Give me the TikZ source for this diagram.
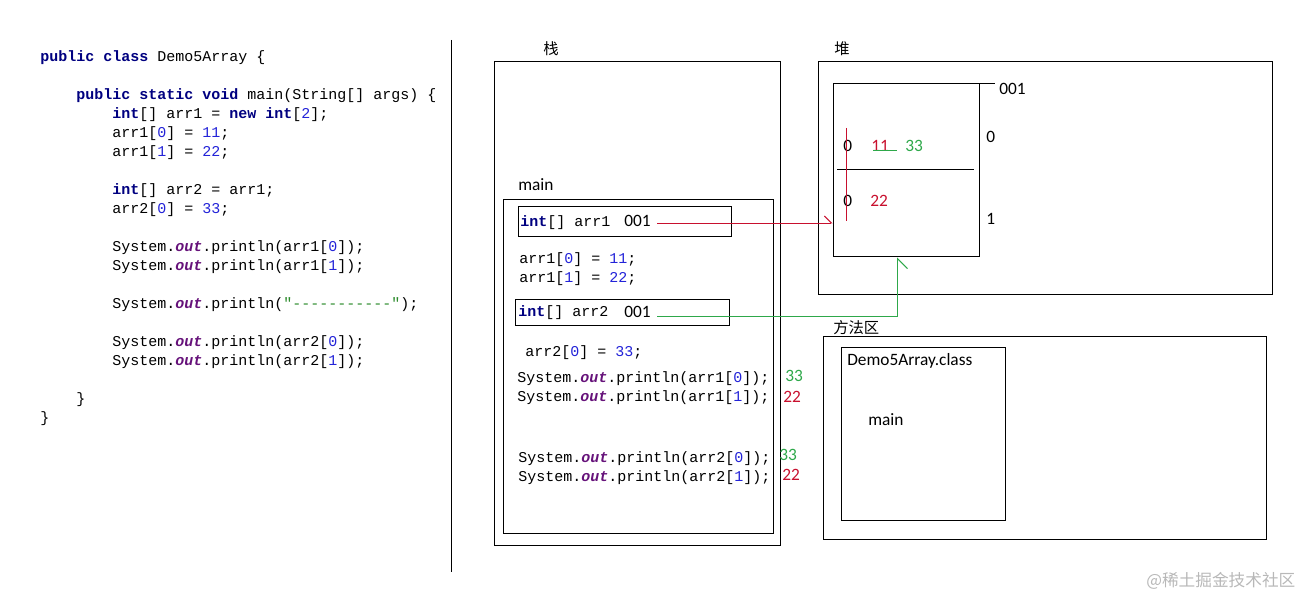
\documentclass[tikz,border=0pt]{standalone}
\usepackage{fontspec}
\setmainfont{Carlito}
\setmonofont{Liberation Mono}
\newfontfamily\cjk{Noto Sans CJK SC}
\usetikzlibrary{arrows.meta,calc}
\definecolor{kwc}{HTML}{000080}
\definecolor{numc}{HTML}{2323D8}
\definecolor{outc}{HTML}{66127A}
\definecolor{strc}{HTML}{2A8A2A}
\definecolor{redc}{HTML}{C8102E}
\definecolor{grnc}{HTML}{2EA84A}
\definecolor{wmc}{HTML}{B8B8B8}
\newcommand\KW[1]{\textcolor{kwc}{\bfseries #1}}
\newcommand\NM[1]{\textcolor{numc}{#1}}
\newcommand\OUT{\textcolor{outc}{\bfseries\itshape out}}
\newcommand\codefont{\fontsize{11.25pt}{13pt}\selectfont\ttfamily}
\begin{document}
\begin{tikzpicture}[x=0.75pt,y=-0.75pt,
  code/.style={anchor=base west,inner sep=0pt,font=\codefont},
  lbl/.style={anchor=base west,inner sep=0pt,font=\fontsize{13pt}{15pt}\selectfont},
  dig/.style={anchor=base west,inner sep=0pt,font=\fontsize{13pt}{15pt}\selectfont},
  cjklbl/.style={anchor=base west,inner sep=0pt,font=\cjk\fontsize{11.5pt}{13pt}\selectfont},
  box/.style={draw=black,line width=0.75pt},
  redline/.style={draw=redc,line width=0.7pt},
  grnline/.style={draw=grnc,line width=0.7pt}]
\useasboundingbox (0,0) rectangle (1311,598);
% left source code
\node[code] (c1) at (40,62) {\KW{public class} Demo5Array \{};
\node[code] (c2) at (76,100) {\KW{public static void} main(String[] args) \{};
\node[code] (c3) at (112,119) {\KW{int}[] arr1 = \KW{new int}[\NM{2}];};
\node[code] (c4) at (112,138) {arr1[\NM{0}] = \NM{11};};
\node[code] (c5) at (112,157) {arr1[\NM{1}] = \NM{22};};
\node[code] (c6) at (112,195) {\KW{int}[] arr2 = arr1;};
\node[code] (c7) at (112,214) {arr2[\NM{0}] = \NM{33};};
\node[code] (c8) at (112,252) {System.\OUT.println(arr1[\NM{0}]);};
\node[code] (c9) at (112,271) {System.\OUT.println(arr1[\NM{1}]);};
\node[code] (c10) at (112,309) {System.\OUT.println(\textcolor{strc}{"-{}-{}-{}-{}-{}-{}-{}-{}-{}-{}-"});};
\node[code] (c11) at (112,347) {System.\OUT.println(arr2[\NM{0}]);};
\node[code] (c12) at (112,366) {System.\OUT.println(arr2[\NM{1}]);};
\node[code] (c13) at (76,404) {\}};
\node[code] (c14) at (40,423) {\}};
% divider
\draw[line width=0.75pt] (451,40) -- (451,572);
% stack
\node[cjklbl] (stklbl) at (543,55) {栈};
\draw[box] (494,62) rectangle (780,546);
\node[lbl] (mainlbl) at (518,191) {main};
\draw[box] (503,200) rectangle (773,534);
\node[box,minimum width=213*0.75pt,minimum height=30*0.75pt,inner sep=0pt] (a1box) at (624.5,222) {};
\node[code] (a1txt) at (520,227) {\KW{int}[] arr1};
\node[dig] (a1val) at (624,227) {001};
\node[code] (s1) at (519,264) {arr1[\NM{0}] = \NM{11};};
\node[code] (s2) at (519,283) {arr1[\NM{1}] = \NM{22};};
\node[box,minimum width=214*0.75pt,minimum height=26*0.75pt,inner sep=0pt] (a2box) at (622,313) {};
\node[code] (a2txt) at (518,317) {\KW{int}[] arr2};
\node[dig] (a2val) at (624,318) {001};
\node[code] (s3) at (525,357) {arr2[\NM{0}] = \NM{33};};
\node[code] (s4) at (517,383) {System.\OUT.println(arr1[\NM{0}]);};
\node[code] (s5) at (517,402) {System.\OUT.println(arr1[\NM{1}]);};
\node[code] (s6) at (518,463) {System.\OUT.println(arr2[\NM{0}]);};
\node[code] (s7) at (518,482) {System.\OUT.println(arr2[\NM{1}]);};
\node[dig,text=grnc] (o1) at (785,382) {33};
\node[dig,text=redc] (o2) at (783,403) {22};
\node[dig,text=grnc] (o3) at (779,461) {33};
\node[dig,text=redc] (o4) at (782,481) {22};
% heap
\node[cjklbl] (heaplbl) at (834,55) {堆};
\draw[box] (818,62) rectangle (1272,295);
\node[box,minimum width=146*0.75pt,minimum height=173*0.75pt,inner sep=0pt] (arr) at (906,170.5) {};
\draw[line width=0.75pt] (arr.north east) -- ++(15,0);
\node[dig] (addr) at (999,95) {001};
\draw[line width=0.75pt] (837,170) -- (974,170);
\node[dig] (z1) at (843,152) {0};
\node[dig,text=redc] (v11) at (871,152) {11};
\draw[grnline] (873,150) -- (897,150);
\node[dig,text=grnc] (v33) at (905,152) {33};
\node[dig] (z2) at (843,207) {0};
\node[dig,text=redc] (v22) at (870,207) {22};
\node[dig] (i0) at (986,143) {0};
\node[dig] (i1) at (986,225) {1};
\draw[redline] (846,128) -- (846,221);
% references
\coordinate (r1s) at (657,223);
\draw[redline,-{Straight Barb[harpoon,length=5.25pt,width=10.5pt]}] (r1s) -- (r1s -| arr.west);
\coordinate (g1s) at (657,316);
\coordinate (g1e) at ($(arr.south west)+(65,0)$);
\draw[grnline,-{Straight Barb[harpoon,swap,length=7.5pt,width=15pt]}] (g1s) -| (g1e);
% method area
\node[cjklbl] (malbl) at (833,334) {方法区};
\draw[box] (823,337) rectangle (1266,540);
\draw[box] (841,348) rectangle (1005,521);
\node[lbl] (cls) at (847,366) {Demo5Array.class};
\node[lbl] (clsmain) at (868,426) {main};
% watermark
\node[anchor=base west,inner sep=0pt,text=wmc,font=\cjk\fontsize{12.5pt}{14pt}\selectfont] (wm) at (1146,586) {@稀土掘金技术社区};
\end{tikzpicture}
\end{document}
